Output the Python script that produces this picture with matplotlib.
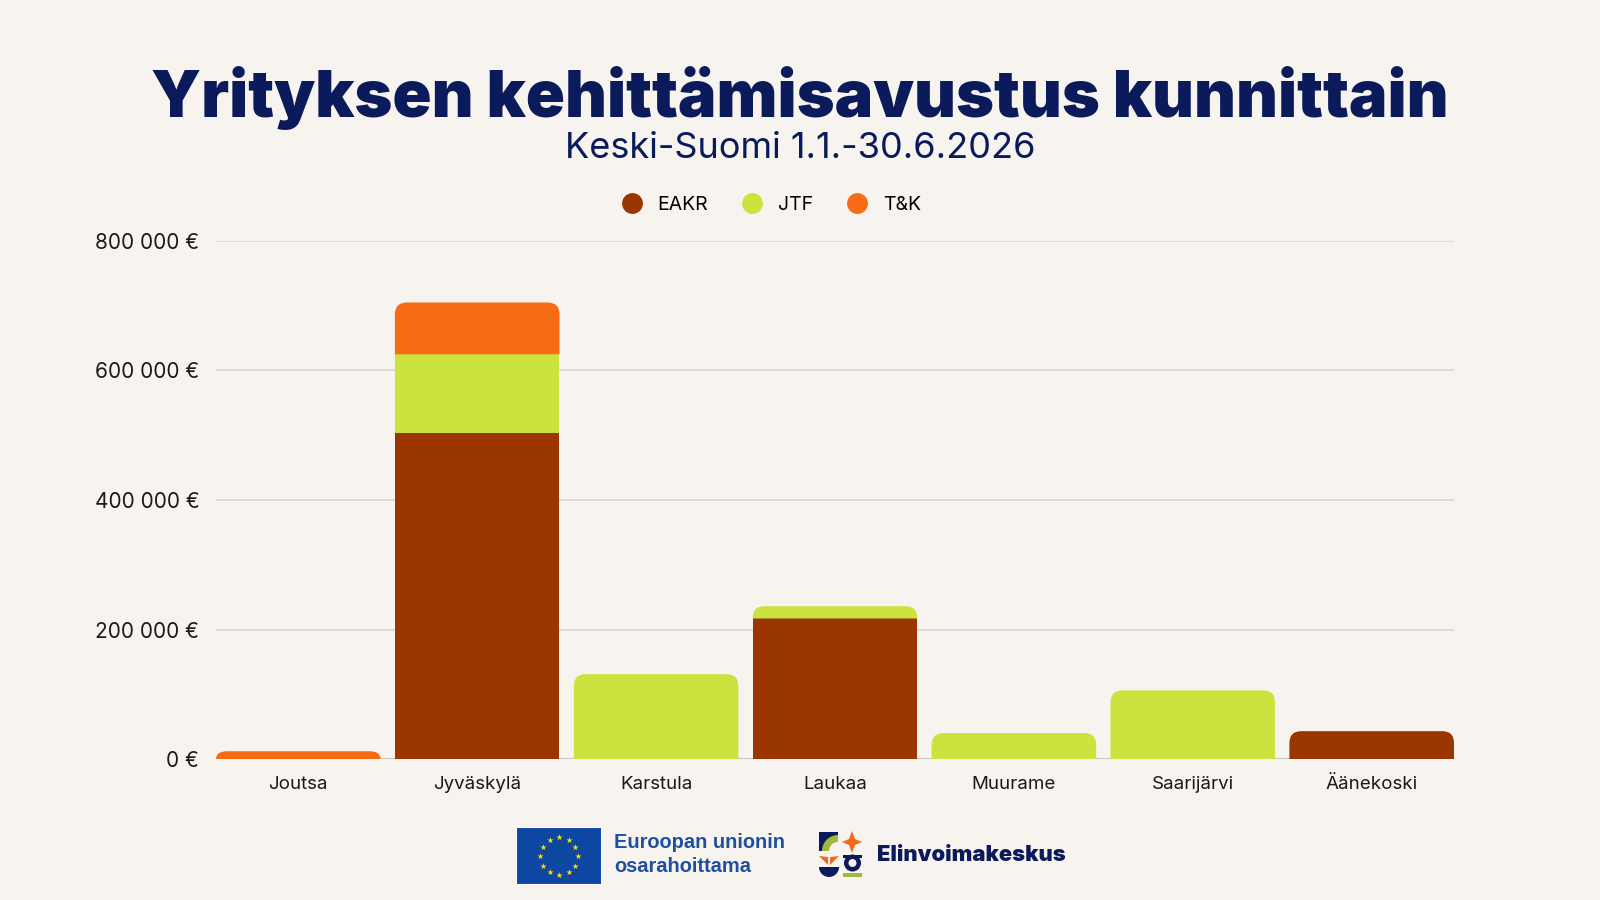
"""
Yrityksen kehittämisavustus kunnittain — Keski-Suomi 1.1.-30.6.2026
Pinottu pylväskaavio (EAKR / JTF / T&K), tallennetaan tiedostoon out.png.
"""

# ─────────────────────────────────────────────
#  KIRJASTOT
# ─────────────────────────────────────────────
import matplotlib
matplotlib.use("Agg")
import matplotlib.pyplot as plt
from matplotlib.lines import Line2D
from matplotlib.path import Path
from matplotlib.patches import PathPatch, Rectangle, Circle, Wedge, Polygon
from matplotlib.ticker import FuncFormatter, MultipleLocator
import numpy as np

# ─────────────────────────────────────────────
#  DATA (luettu kuvasta, euroa)
# ─────────────────────────────────────────────
kunnat = ["Joutsa", "Jyväskylä", "Karstula", "Laukaa",
          "Muurame", "Saarijärvi", "Äänekoski"]
eakr = [0, 503000, 0, 217000, 0, 0, 43000]
jtf = [0, 122000, 131000, 19000, 40000, 106000, 0]
tk = [12000, 80000, 0, 0, 0, 0, 0]

sarjat = ["EAKR", "JTF", "T&K"]
varit = ["#9B3600", "#CCE23E", "#F76B15"]

# ─────────────────────────────────────────────
#  TYYLI
# ─────────────────────────────────────────────
TAUSTA = "#F7F3EF"
NAVY = "#0B1A5A"
EU_SININEN = "#1F4F9E"
plt.rcParams["font.family"] = ["Inter", "DejaVu Sans"]


def euro_muoto(v, _pos):
    """800000 -> '800 000 €'"""
    return f"{v:,.0f}".replace(",", " ") + " €"


def pyorista_ylapaa(ax, bar, r_px=12):
    """Korvaa pylvään suorakulmion polulla, jonka yläkulmat ovat pyöreät."""
    x, y = bar.get_x(), bar.get_y()
    w, h = bar.get_width(), bar.get_height()
    bb = ax.get_window_extent()
    x0, x1 = ax.get_xlim()
    y0, y1 = ax.get_ylim()
    dx = (x1 - x0) / bb.width * r_px
    dy = (y1 - y0) / bb.height * r_px
    ry = min(dy, h)
    rx = dx * min(1.0, ry / dy + 0.3)
    verts = [(x, y), (x, y + h - ry), (x, y + h), (x + rx, y + h),
             (x + w - rx, y + h), (x + w, y + h), (x + w, y + h - ry),
             (x + w, y), (x, y)]
    codes = [Path.MOVETO, Path.LINETO, Path.CURVE3, Path.CURVE3,
             Path.LINETO, Path.CURVE3, Path.CURVE3, Path.LINETO,
             Path.CLOSEPOLY]
    bar.set_visible(False)
    ax.add_patch(PathPatch(Path(verts, codes), facecolor=bar.get_facecolor(),
                           edgecolor="none", zorder=bar.get_zorder()))


def eu_logo(fig):
    """EU-lippu ja teksti alareunaan."""
    ax = fig.add_axes([516 / 1600, 1 - 885 / 900, 86 / 1600, 58 / 900])
    ax.set_xlim(0, 86)
    ax.set_ylim(0, 58)
    ax.axis("off")
    ax.add_patch(Rectangle((0, 0), 86, 58, facecolor="#0E47A1",
                           edgecolor="white", linewidth=1.5))
    kulmat = np.linspace(0, 2 * np.pi, 13)[:-1]
    ax.scatter(43 + 19 * np.cos(kulmat), 29 + 19 * np.sin(kulmat),
               marker="*", s=22, color="#FFDD00", linewidths=0)
    for rivi, yy in [("Euroopan unionin", 843), ("osarahoittama", 867)]:
        fig.text(614 / 1600, 1 - yy / 900, rivi,
                 family=["Liberation Sans", "DejaVu Sans"],
                 fontweight="bold", fontsize=14.4, color=EU_SININEN,
                 ha="left", va="center")


def elinvoima_logo(fig):
    """Elinvoimakeskuksen tunnus (yksinkertaistettu) ja teksti."""
    ax = fig.add_axes([818 / 1600, 1 - 877 / 900, 46 / 1600, 46 / 900])
    ax.set_xlim(0, 46)
    ax.set_ylim(0, 46)
    ax.axis("off")
    vihrea, oranssi = "#A3B83A", "#F26B1D"
    # vasen ylä: tumma neliö + vihreä neljännesympyrä
    ax.add_patch(Rectangle((1, 26), 19, 19, facecolor=NAVY))
    ax.add_patch(Wedge((20, 26), 16, 90, 180, facecolor=vihrea))
    ax.add_patch(Wedge((20, 26), 9, 90, 180, facecolor=TAUSTA))
    # oikea ylä: oranssi tähti
    ax.add_patch(Polygon([(34, 46), (37, 38), (44, 35), (37, 32), (34, 24),
                          (31, 32), (24, 35), (31, 38)], facecolor=oranssi))
    # vasen ala: tulppaani
    ax.add_patch(Wedge((11, 10), 10, 180, 360, facecolor=NAVY))
    ax.add_patch(Polygon([(1, 21), (10, 12), (10, 20)], facecolor=oranssi))
    ax.add_patch(Polygon([(21, 21), (12, 12), (12, 20)], facecolor=oranssi))
    # oikea ala: kulho
    ax.add_patch(Rectangle((25, 0), 19, 4, facecolor=vihrea))
    ax.add_patch(Circle((34.5, 14), 8.5, facecolor=NAVY))
    ax.add_patch(Circle((34.5, 14), 4, facecolor=TAUSTA))
    ax.add_patch(Rectangle((25, 19), 19, 3.5, facecolor=NAVY))
    fig.text(877 / 1600, 1 - 855 / 900, "Elinvoimakeskus",
             fontweight="black", fontsize=15.8, color=NAVY,
             ha="left", va="center")


# ══════════════════════════════════════════════
#  KAAVIO
# ══════════════════════════════════════════════
def main():
    fig = plt.figure(figsize=(16, 9), dpi=100, facecolor=TAUSTA)
    ax = fig.add_axes([216 / 1600, 1 - 759 / 900, 1238 / 1600, 518 / 900])
    ax.set_facecolor(TAUSTA)

    x = np.arange(len(kunnat))
    leveys = 0.92
    ax.set_xlim(-leveys / 2, len(kunnat) - 1 + leveys / 2)
    ax.set_ylim(0, 800000)

    # ── Pinotut pylväät ───────────────────────────
    pohja = np.zeros(len(kunnat))
    kaikki = []
    for arvot, vari in zip([eakr, jtf, tk], varit):
        arvot = np.array(arvot, dtype=float)
        palkit = ax.bar(x, arvot, bottom=pohja, width=leveys, color=vari,
                        edgecolor="none", zorder=3)
        kaikki.append((arvot, palkit))
        pohja = pohja + arvot

    # ylin osa saa pyöristetyt kulmat
    for i in range(len(kunnat)):
        ylin = None
        for arvot, palkit in kaikki:
            if arvot[i] > 0:
                ylin = palkit[i]
        if ylin is not None:
            pyorista_ylapaa(ax, ylin)

    # ── Akselit ja ruudukko ───────────────────────
    ax.yaxis.set_major_locator(MultipleLocator(200000))
    ax.yaxis.set_major_formatter(FuncFormatter(euro_muoto))
    ax.grid(axis="y", color="#DAD6D2", linewidth=1.2, zorder=0)
    ax.axhline(0, color="#C9C5C1", linewidth=1.4, zorder=2)
    for s in ax.spines.values():
        s.set_visible(False)
    ax.tick_params(axis="both", length=0, colors="#1A1A1A")
    ax.tick_params(axis="y", pad=12, labelsize=15)
    ax.tick_params(axis="x", pad=12, labelsize=13.5)
    ax.set_xticks(x)
    ax.set_xticklabels(kunnat)

    # ── Otsikot ───────────────────────────────────
    fig.text(0.5, 1 - 98 / 900, "Yrityksen kehittämisavustus kunnittain",
             ha="center", va="center", fontsize=46.5, fontweight="black",
             color=NAVY)
    fig.text(0.5, 1 - 149 / 900, "Keski-Suomi 1.1.-30.6.2026",
             ha="center", va="center", fontsize=26, color=NAVY)

    # ── Selite ────────────────────────────────────
    kahvat = [Line2D([], [], marker="o", linestyle="none", markersize=15,
                     markerfacecolor=v, markeredgecolor="none")
              for v in varit]
    fig.legend(kahvat, sarjat, loc="center", ncol=3, frameon=False,
               bbox_to_anchor=(0.479, 1 - 205 / 900), fontsize=14,
               handletextpad=0.3, columnspacing=1.3)

    # ── Logot ─────────────────────────────────────
    eu_logo(fig)
    elinvoima_logo(fig)

    fig.savefig("out.png", dpi=100, facecolor=TAUSTA)


if __name__ == "__main__":
    main()
